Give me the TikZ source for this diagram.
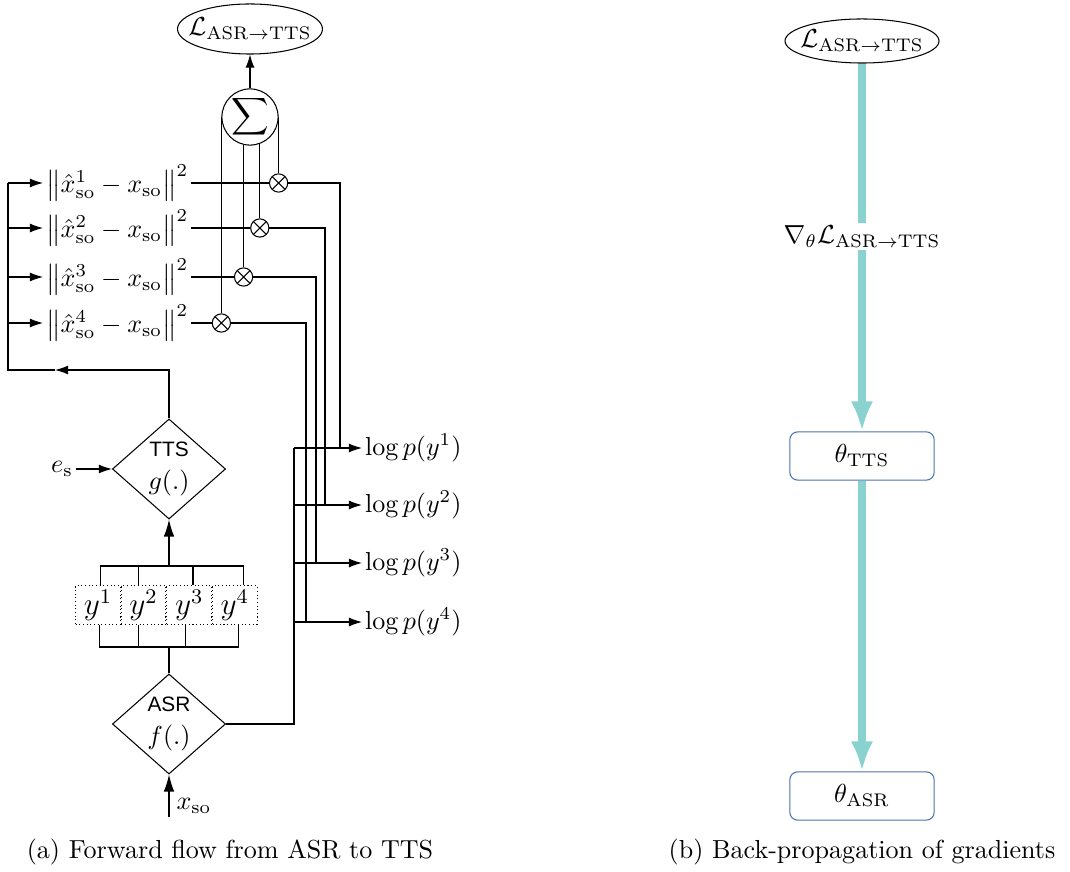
\documentclass[tikz,border=0pt]{standalone}
\usepackage{fontspec}
\usepackage{amsmath}
\newfontfamily\blockfont{Liberation Sans}
\usetikzlibrary{arrows.meta,positioning,shapes.geometric}

\definecolor{gradteal}{RGB}{137,210,208}
\definecolor{boxblue}{RGB}{76,114,176}

\begin{document}
\begin{tikzpicture}[
    x=0.3837pt, y=-0.3837pt,
    ell/.style={draw, ellipse, inner xsep=-4pt, inner ysep=0pt},
    block/.style={draw, diamond, aspect=1.13, minimum width=43.4pt, minimum height=38.4pt,
      inner sep=0pt, align=center},
    mult/.style={draw, circle, minimum size=7pt, inner sep=0pt,
      path picture={\draw (path picture bounding box.north west) -- (path picture bounding box.south east)
        (path picture bounding box.south west) -- (path picture bounding box.north east);}},
    norm/.style={anchor=west, inner sep=1pt},
    logp/.style={anchor=west, inner sep=1pt},
    ybox/.style={draw, densely dotted, minimum width=17.1pt, minimum height=14.6pt, inner sep=0pt,
      font=\large},
    param/.style={draw=boxblue, rounded corners=3pt, minimum width=55.4pt, minimum height=18.5pt},
    arr/.style={-{Latex[length=5pt,width=3.4pt]}},
    arrbig/.style={-{Latex[length=6.5pt,width=4pt]}},
    grad/.style={draw=gradteal, line width=3pt, -{Latex[length=11.5pt,width=8.6pt]}}
  ]
    \useasboundingbox (0,0) rectangle (1070,872);

    % (a) forward flow
    \node[ell, minimum width=55.3pt, minimum height=19.2pt] (loss) at (250,29)
      {$\mathcal{L}_{\mathrm{ASR}\rightarrow\mathrm{TTS}}$};
    \node[draw, circle, minimum size=20pt, inner sep=0pt] (sig) at (250,117) {$\displaystyle\sum$};
    \draw[arr] (sig.north) -- (loss.south);

    % squared errors and weights
    \foreach \i/\yy in {1/183, 2/228, 3/277, 4/323}
      \node[norm] (n\i) at (43,\yy)
        {$\bigl\|\hat{x}^{\i}_{\mathrm{so}}-x_{\mathrm{so}}\bigr\|^{2}$};
    \foreach \i/\a/\yy in {1/0/183, 2/-70/228, 3/-103/277, 4/180/323} {
      \node[mult] (m\i) at (sig.\a |- 0,\yy) {};
      \draw (sig.\a) -- (m\i);
      \draw (n\i.east) -- (m\i.west);
    }

    % log-likelihoods
    \foreach \i/\cx/\ly in {1/340/448, 2/325/505, 3/316/563, 4/306/622} {
      \node[logp] (p\i) at (362,\ly) {$\log p(y^{\i})$};
      \coordinate (c\i) at (\cx,0);
      \draw (m\i.east) -| (c\i |- p\i.west);
    }

    % TTS and ASR blocks
    \node[block] (tts) at (169,469) {{\blockfont\footnotesize TTS}\\[1pt]$g(.)$};
    \node[block] (asr) at (169,724) {{\blockfont\footnotesize ASR}\\[1pt]$f(.)$};

    \node[inner sep=1pt] (es) at (62,469) {$e_{\mathrm{s}}$};
    \draw[arr] (es) -- (tts.west);

    \coordinate (xin) at (169,817);
    \node (xso) at (194,806) {$x_{\mathrm{so}}$};
    \draw[arrbig] (xin) -- (asr.south);

    % hypotheses
    \node[ybox] (y1) at (98,605) {$y^{1}$};
    \node[ybox, right=0pt of y1] (y2) {$y^{2}$};
    \node[ybox, right=0pt of y2] (y3) {$y^{3}$};
    \node[ybox, right=0pt of y3] (y4) {$y^{4}$};

    \coordinate (ytop) at (169,566);
    \draw (y1.84) |- (y4.67 |- ytop) -- (y4.67);
    \draw (y2.104) -- (y2.104 |- ytop);
    \draw (y3.79) -- (y3.79 |- ytop);
    \draw[arrbig] (ytop) -- (tts.south);

    \coordinate (ybot) at (169,647);
    \draw (y1.-87) |- (y4.-80 |- ybot) -- (y4.-80);
    \draw (y2.-104) -- (y2.-104 |- ybot);
    \draw (y3.-102) -- (y3.-102 |- ybot);
    \draw (ybot) -- (asr.north);

    % ASR output bus
    \coordinate (bus) at (294,0);
    \draw (asr.east) -| (bus |- p1.west);
    \foreach \i in {1,...,4}
      \draw[arr] (bus |- p\i.west) -- (p\i.west);

    % feedback of synthesized speech
    \coordinate (fb) at (55,370);
    \coordinate (fbL) at (8,370);
    \draw[arr] (tts.north) |- (fb);
    \draw (fb) -- (fbL) -- (fbL |- n1.west);
    \foreach \i in {1,...,4}
      \draw[arr] (fbL |- n\i.west) -- (n\i.west);

    \node (capa) at (230,852) {(a) Forward flow from ASR to TTS};

    % (b) back-propagation
    \node[ell, minimum width=59.1pt, minimum height=16.9pt] (loss2) at (862,41)
      {$\mathcal{L}_{\mathrm{ASR}\rightarrow\mathrm{TTS}}$};
    \node[param] (tts2) at (862,456) {$\theta_{\mathrm{TTS}}$};
    \node[param] (asr2) at (862,796) {$\theta_{\mathrm{ASR}}$};

    \draw[grad] (loss2.south) -- node[pos=0.47, fill=white, inner sep=1pt]
      {$\nabla_{\theta}\mathcal{L}_{\mathrm{ASR}\rightarrow\mathrm{TTS}}$} (tts2.north);
    \draw[grad] (tts2.south) -- (asr2.north);

    \node (capb) at (862,852) {(b) Back-propagation of gradients};
\end{tikzpicture}
\end{document}
